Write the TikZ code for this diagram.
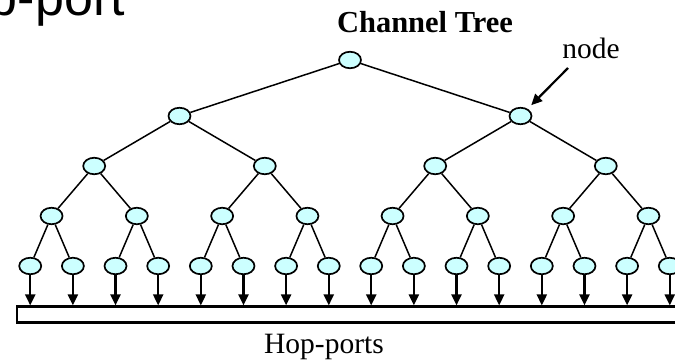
\documentclass[tikz,border=0pt]{standalone}
\usepackage{fontspec}
\setmainfont{Liberation Serif}
\newfontfamily\slidefont{Liberation Sans}
\usetikzlibrary{positioning,shapes.geometric,arrows.meta}
\definecolor{nodefill}{HTML}{CCFFFF}

\tikzset{
	chan/.style={ellipse, draw, line width=1.7pt, fill=nodefill, minimum width=22pt, minimum height=16.5pt, inner sep=0pt},
	branch/.style={line width=1.5pt},
	feed/.style={line width=2.2pt, -{Triangle[length=11pt,width=10pt]}},
	lbl/.style={inner sep=0pt, font=\fontsize{29.5}{34}\selectfont},
}

\begin{document}
\begin{tikzpicture}[x=1pt, y=-1pt, on grid]
		\useasboundingbox (0,0) rectangle (675,359) ;
		\clip (0,0) rectangle (675,359) ;

		\node[anchor=base east, inner sep=0pt, font=\slidefont\fontsize{52}{60}\selectfont] (heading) at (125,15) {p-port} ;
		\node[lbl, anchor=base, font=\fontsize{30.5}{36}\selectfont\bfseries] (title) at (425,32) {Channel Tree} ;

		\node[chan] (n1) at (350,60) {} ;
		\node[chan, below left=56pt and 170.5pt of n1] (n2) {} ;
		\node[chan, below right=56pt and 170.5pt of n1] (n3) {} ;

		\node[chan, below left=50pt and 85.3pt of n2] (n4) {} ;
		\node[chan, below right=50pt and 85.3pt of n2] (n5) {} ;
		\node[chan, below left=50pt and 85.3pt of n3] (n6) {} ;
		\node[chan, below right=50pt and 85.3pt of n3] (n7) {} ;

		\node[chan, below left=50pt and 42.65pt of n4] (n8) {} ;
		\node[chan, below right=50pt and 42.65pt of n4] (n9) {} ;
		\node[chan, below left=50pt and 42.65pt of n5] (n10) {} ;
		\node[chan, below right=50pt and 42.65pt of n5] (n11) {} ;
		\node[chan, below left=50pt and 42.65pt of n6] (n12) {} ;
		\node[chan, below right=50pt and 42.65pt of n6] (n13) {} ;
		\node[chan, below left=50pt and 42.65pt of n7] (n14) {} ;
		\node[chan, below right=50pt and 42.65pt of n7] (n15) {} ;

		\node[chan, below left=50pt and 21.33pt of n8] (n16) {} ;
		\node[chan, below right=50pt and 21.33pt of n8] (n17) {} ;
		\node[chan, below left=50pt and 21.33pt of n9] (n18) {} ;
		\node[chan, below right=50pt and 21.33pt of n9] (n19) {} ;
		\node[chan, below left=50pt and 21.33pt of n10] (n20) {} ;
		\node[chan, below right=50pt and 21.33pt of n10] (n21) {} ;
		\node[chan, below left=50pt and 21.33pt of n11] (n22) {} ;
		\node[chan, below right=50pt and 21.33pt of n11] (n23) {} ;
		\node[chan, below left=50pt and 21.33pt of n12] (n24) {} ;
		\node[chan, below right=50pt and 21.33pt of n12] (n25) {} ;
		\node[chan, below left=50pt and 21.33pt of n13] (n26) {} ;
		\node[chan, below right=50pt and 21.33pt of n13] (n27) {} ;
		\node[chan, below left=50pt and 21.33pt of n14] (n28) {} ;
		\node[chan, below right=50pt and 21.33pt of n14] (n29) {} ;
		\node[chan, below left=50pt and 21.33pt of n15] (n30) {} ;
		\node[chan, below right=50pt and 21.33pt of n15] (n31) {} ;

		\draw[branch] (n1) -- (n2) (n1) -- (n3) ;
		\draw[branch] (n2) -- (n4) (n2) -- (n5) ;
		\draw[branch] (n3) -- (n6) (n3) -- (n7) ;
		\draw[branch] (n4) -- (n8) (n4) -- (n9) ;
		\draw[branch] (n5) -- (n10) (n5) -- (n11) ;
		\draw[branch] (n6) -- (n12) (n6) -- (n13) ;
		\draw[branch] (n7) -- (n14) (n7) -- (n15) ;
		\draw[branch] (n8) -- (n16) (n8) -- (n17) ;
		\draw[branch] (n9) -- (n18) (n9) -- (n19) ;
		\draw[branch] (n10) -- (n20) (n10) -- (n21) ;
		\draw[branch] (n11) -- (n22) (n11) -- (n23) ;
		\draw[branch] (n12) -- (n24) (n12) -- (n25) ;
		\draw[branch] (n13) -- (n26) (n13) -- (n27) ;
		\draw[branch] (n14) -- (n28) (n14) -- (n29) ;
		\draw[branch] (n15) -- (n30) (n15) -- (n31) ;

		\node[draw, line width=2.2pt, fill=white, minimum width=683pt, minimum height=16pt, inner sep=0pt] (ports) at (358.5,314.5) {} ;
		\node[lbl, anchor=base] (portlbl) at (324,353) {Hop-ports} ;

		\draw[feed] (n16) -- (n16 |- ports.north) ;
		\draw[feed] (n17) -- (n17 |- ports.north) ;
		\draw[feed] (n18) -- (n18 |- ports.north) ;
		\draw[feed] (n19) -- (n19 |- ports.north) ;
		\draw[feed] (n20) -- (n20 |- ports.north) ;
		\draw[feed] (n21) -- (n21 |- ports.north) ;
		\draw[feed] (n22) -- (n22 |- ports.north) ;
		\draw[feed] (n23) -- (n23 |- ports.north) ;
		\draw[feed] (n24) -- (n24 |- ports.north) ;
		\draw[feed] (n25) -- (n25 |- ports.north) ;
		\draw[feed] (n26) -- (n26 |- ports.north) ;
		\draw[feed] (n27) -- (n27 |- ports.north) ;
		\draw[feed] (n28) -- (n28 |- ports.north) ;
		\draw[feed] (n29) -- (n29 |- ports.north) ;
		\draw[feed] (n30) -- (n30 |- ports.north) ;
		\draw[feed] (n31) -- (n31 |- ports.north) ;

		\node[lbl, anchor=base] (nodelbl) at (591,58) {node} ;
		\coordinate (ptr) at (568,68) ;
		\draw[feed, shorten >=5pt] (ptr) -- (n3) ;
\end{tikzpicture}
\end{document}
